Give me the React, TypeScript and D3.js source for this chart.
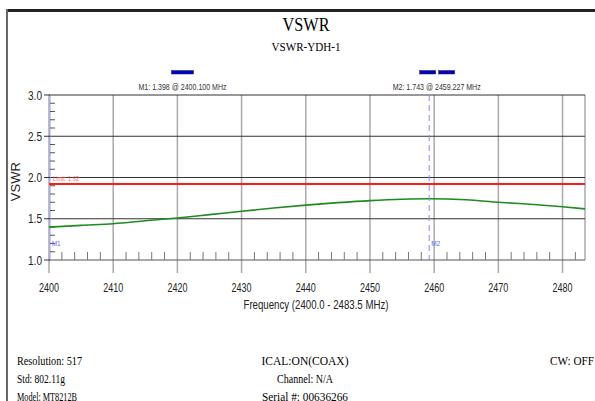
import * as d3 from "d3"

// measured trace, VSWR vs frequency (MHz)
const freqs = [2400, 2405, 2410, 2415, 2420, 2425, 2430, 2435, 2440, 2445, 2450, 2455, 2459.2, 2465, 2470, 2475, 2480, 2483.5]
const vswr = [1.398, 1.42, 1.44, 1.475, 1.51, 1.55, 1.59, 1.63, 1.665, 1.695, 1.72, 1.737, 1.743, 1.73, 1.7, 1.675, 1.645, 1.62]

const xTicks = [2400, 2410, 2420, 2430, 2440, 2450, 2460, 2470, 2480]
const yTicks = [1.0, 1.5, 2.0, 2.5, 3.0]
const limit = 1.92

const markers = [
	{ name: "M1", freq: 2400.1, value: 1.398, labelAt: 2420.8 },
	{ name: "M2", freq: 2459.227, value: 1.743, labelAt: 2460.4 },
]

// footer lines: [text, width it takes in the printout]
const footLeft: [string, number][] = [["Resolution:  517", 65], ["Std: 802.11g", 48], ["Model: MT8212B", 60]]
const footMid: [string, number][] = [["ICAL:ON(COAX)", 87], ["Channel: N/A", 56], ["Serial #: 00636266", 86]]
const footRight: [string, number][] = [["CW: OFF", 44]]

const W = 595
const H = 401
const sans = "'Liberation Sans', Arial, sans-serif"
const serif = "'Liberation Serif', 'Times New Roman', serif"
const squeeze = "spacingAndGlyphs"

export default function App() {
	const x = d3.scaleLinear().domain([2400, 2483.5]).range([49, 585])
	const y = d3.scaleLinear().domain([1, 3]).range([260, 95])

	const line = d3
		.line<number>()
		.x((d, i) => x(freqs[i]))
		.y((d) => y(d))
		.curve(d3.curveMonotoneX)

	const minorX = d3.range(2402, 2483.5, 2).filter((f) => f % 10 !== 0)
	const minorY = d3.range(1.1, 3.0, 0.1).filter((v) => Math.abs(v * 2 - Math.round(v * 2)) > 0.01)

	return (
		<svg
			width={W}
			height={H}
			style={{ position: "absolute", left: 0, top: 0, background: "#fff" }}
		>
			{/* page frame */}
			<line x1={6} x2={W} y1={10.5} y2={10.5} stroke="#222" strokeWidth={3} />
			<line x1={7} x2={7} y1={9} y2={H} stroke="#666" strokeWidth={2} />

			<text x={306} y={31} textAnchor="middle" fontFamily={serif} fontSize={18} textLength={47} lengthAdjust={squeeze}>
				VSWR
			</text>
			<text x={306} y={51} textAnchor="middle" fontFamily={serif} fontSize={13} textLength={69} lengthAdjust={squeeze}>
				VSWR-YDH-1
			</text>

			{/* vertical grid */}
			{xTicks.map((t) => (
				<line key={t} x1={x(t)} x2={x(t)} y1={y(3)} y2={273} stroke="#aaa" strokeWidth={1.5} />
			))}
			<line x1={x(2483.5)} x2={x(2483.5)} y1={y(3)} y2={y(1)} stroke="#aaa" strokeWidth={1.5} />

			{/* horizontal grid */}
			{yTicks.slice(1).map((t) => (
				<line key={t} x1={x(2400)} x2={x(2483.5)} y1={y(t)} y2={y(t)} stroke="#333" strokeWidth={1} />
			))}
			<line x1={x(2400)} x2={x(2483.5)} y1={y(1)} y2={y(1)} stroke="#555" strokeWidth={1} />

			{/* y axis */}
			<line x1={50} x2={50} y1={y(3)} y2={y(1)} stroke="#9999ff" strokeWidth={1} />
			{yTicks.map((t) => (
				<g key={t}>
					<line x1={44} x2={50} y1={y(t)} y2={y(t)} stroke="#333" />
					<text x={42} y={y(t) + 4.5} textAnchor="end" fontFamily={sans} fontSize={13} fill="#222" textLength={14} lengthAdjust={squeeze}>
						{t.toFixed(1)}
					</text>
				</g>
			))}
			{minorY.map((t) => (
				<line key={t} x1={50} x2={55} y1={y(t)} y2={y(t)} stroke="#555" />
			))}
			<text
				transform={`translate(20,${y(1.95)}) rotate(-90)`}
				textAnchor="middle"
				fontFamily={sans}
				fontSize={13}
				fill="#222"
			>
				VSWR
			</text>

			{/* x axis */}
			{minorX.map((f) => (
				<line key={f} x1={x(f)} x2={x(f)} y1={252} y2={y(1)} stroke="#777" />
			))}
			{xTicks.map((t) => (
				<text key={t} x={x(t)} y={292} textAnchor="middle" fontFamily={sans} fontSize={13} fill="#222" textLength={20} lengthAdjust={squeeze}>
					{t}
				</text>
			))}
			<text x={316} y={309} textAnchor="middle" fontFamily={sans} fontSize={12.5} fill="#222" textLength={145} lengthAdjust={squeeze}>
				Frequency (2400.0 - 2483.5 MHz)
			</text>

			{/* limit line */}
			<line x1={x(2400)} x2={x(2483.5)} y1={y(limit)} y2={y(limit)} stroke="#ff1a1a" strokeWidth={2} />
			<text x={53} y={y(limit) - 3} fontFamily={sans} fontSize={7} fill="#ff6666" textLength={26} lengthAdjust={squeeze}>
				Limit: {limit}
			</text>

			{/* trace */}
			<path d={line(vswr) ?? ""} fill="none" stroke="#1f8a1f" strokeWidth={1.6} />

			{/* markers */}
			<line
				x1={x(markers[1].freq)}
				x2={x(markers[1].freq)}
				y1={y(3)}
				y2={y(1)}
				stroke="#8888ff"
				strokeDasharray="6,4"
			/>
			{markers.map((m) => (
				<text key={m.name} x={x(m.freq) + 2} y={246} fontFamily={sans} fontSize={6.5} fill="#6666ff">
					{m.name}
				</text>
			))}
			{markers.map((m) => (
				<text key={m.name} x={x(m.labelAt)} y={90} textAnchor="middle" fontFamily={sans} fontSize={9.5} fill="#333" textLength={88} lengthAdjust={squeeze}>
					{`${m.name}: ${m.value.toFixed(3)}  @ ${m.freq.toFixed(3)} MHz`}
				</text>
			))}
			<rect x={x(2420.8) - 11} y={70.5} width={22} height={3.5} fill="#0000cc" stroke="#223" strokeWidth={0.5} />
			<rect x={x(2460.4) - 17} y={70.5} width={16} height={3.5} fill="#0000cc" stroke="#223" strokeWidth={0.5} />
			<rect x={x(2460.4) + 2} y={70.5} width={16} height={3.5} fill="#0000cc" stroke="#223" strokeWidth={0.5} />

			{/* footer */}
			{footLeft.map(([s, w], i) => (
				<text key={s} x={17} y={365 + i * 18} fontFamily={serif} fontSize={13} textLength={w} lengthAdjust={squeeze}>
					{s}
				</text>
			))}
			{footMid.map(([s, w], i) => (
				<text key={s} x={305} y={365 + i * 18} textAnchor="middle" fontFamily={serif} fontSize={13} textLength={w} lengthAdjust={squeeze}>
					{s}
				</text>
			))}
			{footRight.map(([s, w], i) => (
				<text key={s} x={550} y={365 + i * 18} fontFamily={serif} fontSize={13} textLength={w} lengthAdjust={squeeze}>
					{s}
				</text>
			))}
		</svg>
	)
}
